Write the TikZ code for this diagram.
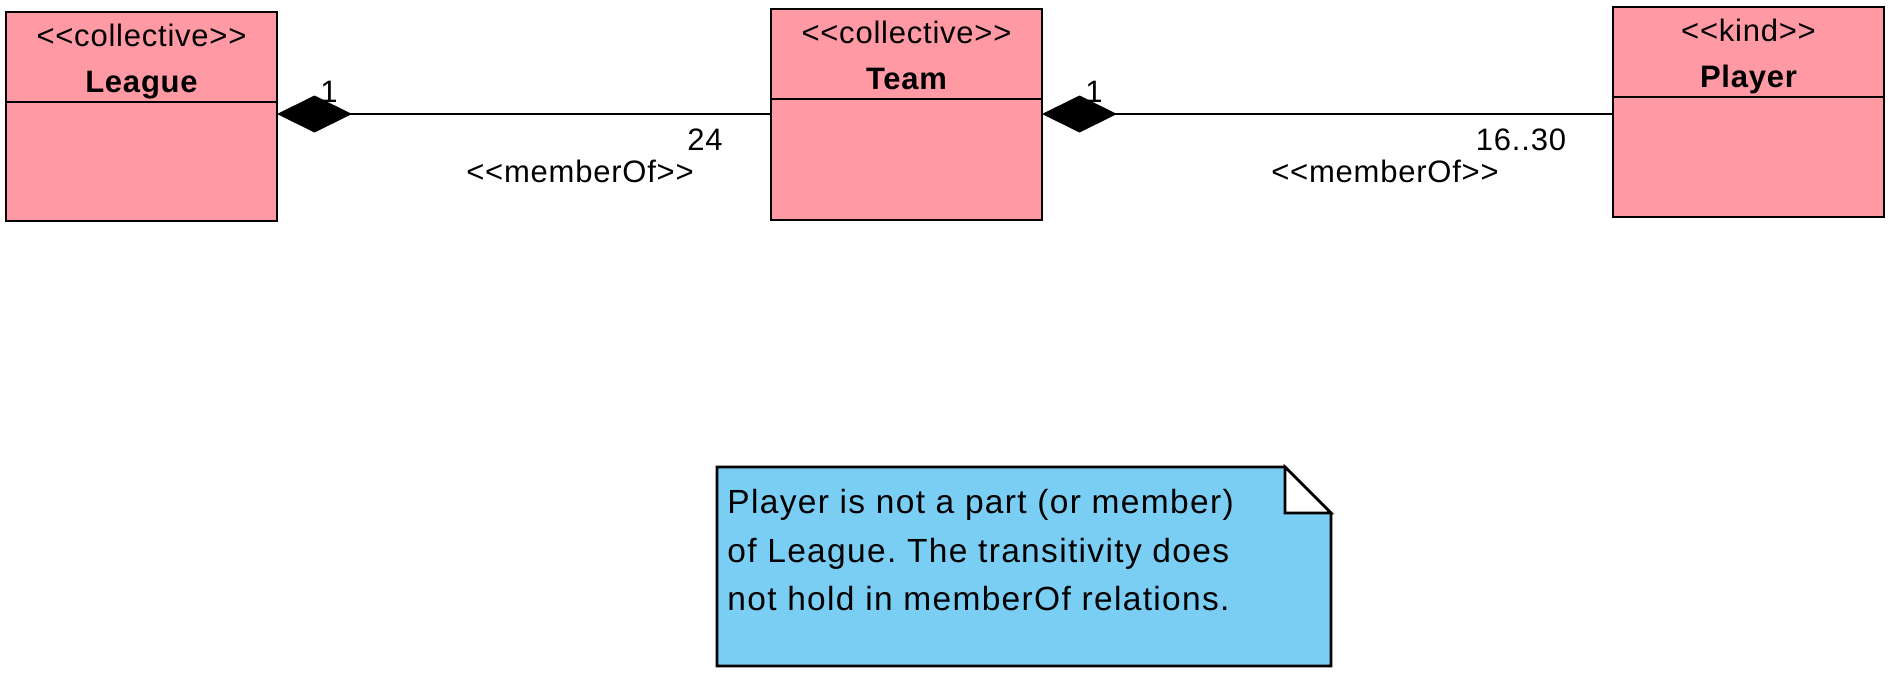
\documentclass[tikz,border=0pt]{standalone}
\usepackage{fontspec}
\setmainfont{Liberation Sans}
\newfontfamily\labfont[LetterSpace=2.5]{Liberation Sans}
\newfontfamily\notefont[LetterSpace=4]{Liberation Sans}
\frenchspacing
\usetikzlibrary{arrows.meta}
\definecolor{classpink}{RGB}{255,153,164}
\definecolor{noteblue}{RGB}{122,206,244}
\newcommand{\stl}{<{}<}
\newcommand{\str}{>{}>}
\tikzset{
  classbox/.style={draw=black, fill=classpink, line width=1.3pt, rectangle, inner sep=0pt, outer sep=0pt, minimum width=135.5pt},
  divider/.style={line width=1.3pt},
  stereo/.style={font=\labfont\fontsize{15.5pt}{18pt}\selectfont, anchor=base, inner sep=0pt},
  cname/.style={font=\labfont\fontsize{15.5pt}{18pt}\selectfont\bfseries, anchor=base, inner sep=0pt},
  lbl/.style={font=\labfont\fontsize{15.5pt}{18pt}\selectfont, anchor=base, inner sep=0pt},
  assoc/.style={line width=1.2pt, {Diamond[length=37.5pt,width=18.5pt]}-},
  notebox/.style={draw=black, fill=noteblue, line width=1.3pt, line join=miter},
  notetext/.style={font=\notefont\fontsize{16.75pt}{21pt}\selectfont, anchor=base west, inner sep=0pt}
}
\begin{document}
\begin{tikzpicture}[x=0.5pt,y=-0.5pt]
\useasboundingbox (0,0) rectangle (1896,681);
% classes
\node[classbox, minimum height=104.5pt] (league) at (141.5,116.5) {};
\node[classbox, minimum height=105.5pt] (team) at (906.5,114.5) {};
\node[classbox, minimum height=105pt] (player) at (1748.5,112) {};
\draw[divider] (league.west |- 0,102) -- (league.east |- 0,102);
\draw[divider] (team.west |- 0,99) -- (team.east |- 0,99);
\draw[divider] (player.west |- 0,97) -- (player.east |- 0,97);
\node[stereo] (leaguest) at (141.5,46) {\stl collective\str};
\node[cname] (leaguenm) at (141.5,92) {League};
\node[stereo] (teamst) at (906.5,43) {\stl collective\str};
\node[cname] (teamnm) at (906.5,89) {Team};
\node[stereo] (playerst) at (1748.5,41) {\stl kind\str};
\node[cname] (playernm) at (1748.5,87) {Player};
% associations
\draw[assoc] (league.east |- 0,114) -- (team.west |- 0,114);
\draw[assoc] (team.east |- 0,114) -- (player.west |- 0,114);
\node[lbl] (m1) at (329,102) {1};
\node[lbl] (m2) at (705,150) {24};
\node[lbl] (s1) at (580,182) {\stl memberOf\str};
\node[lbl] (m3) at (1094,102) {1};
\node[lbl] (m4) at (1521,150) {16..30};
\node[lbl] (s2) at (1385,182) {\stl memberOf\str};
% note
\coordinate (nA) at (717,467);
\coordinate (nB) at (1285,467);
\coordinate (nC) at (1331,513);
\coordinate (nD) at (1331,666);
\coordinate (nE) at (717,666);
\coordinate (nF) at (1285,513);
\draw[notebox] (nA) -- (nB) -- (nC) -- (nD) -- (nE) -- cycle;
\draw[notebox, fill=white] (nB) -- (nF) -- (nC) -- cycle;
\node[notetext] (n1) at (727,513) {Player is not a part (or member)};
\node[notetext] (n2) at (727,562) {of League. The transitivity does};
\node[notetext] (n3) at (727,610) {not hold in memberOf relations.};
\end{tikzpicture}
\end{document}
